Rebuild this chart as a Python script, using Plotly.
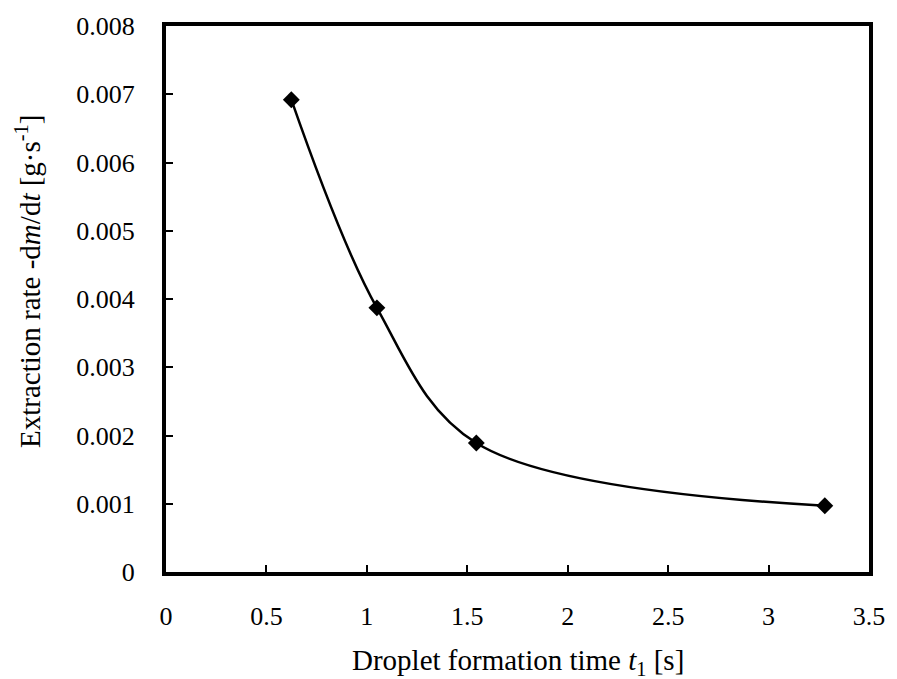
import plotly.graph_objects as go

# Droplet formation time t1 [s] and extraction rate -dm/dt [g/s]
formation_time = [0.624, 1.05, 1.545, 3.28]
extraction_rate = [0.00692, 0.00387, 0.00189, 0.00097]

x_ticks = [0, 0.5, 1, 1.5, 2, 2.5, 3, 3.5]
x_tick_text = ["0", "0.5", "1", "1.5", "2", "2.5", "3", "3.5"]
y_ticks = [0, 0.001, 0.002, 0.003, 0.004, 0.005, 0.006, 0.007, 0.008]
y_tick_text = ["0", "0.001", "0.002", "0.003", "0.004", "0.005", "0.006", "0.007", "0.008"]

x_title = "Droplet formation time <i>t</i><sub>1</sub> [s]"
y_title = "Extraction rate -d<i>m</i>/d<i>t</i> [g·s<sup>-1</sup>]"

FONT = "Liberation Serif"
tick_font = dict(family=FONT, size=26, color="black")
title_font = dict(family=FONT, size=29, color="black")

fig = go.Figure()
fig.add_trace(go.Scatter(
    x=formation_time,
    y=extraction_rate,
    mode="lines+markers",
    line=dict(color="black", width=2.5, shape="spline", smoothing=1.0),
    marker=dict(symbol="diamond", size=13, color="black"),
    showlegend=False,
))

axis_style = dict(
    showline=True, linecolor="black", linewidth=4, mirror=True,
    ticks="inside", ticklen=7, tickwidth=2, tickcolor="black",
    showgrid=False, zeroline=False,
    tickfont=tick_font,
)
fig.update_xaxes(range=[0, 3.5], tickvals=x_ticks, ticktext=x_tick_text,
                 ticklabelstandoff=18, **axis_style)
fig.update_yaxes(range=[0, 0.008], tickvals=y_ticks, ticktext=y_tick_text,
                 ticklabelstandoff=22, **axis_style)

# Axis titles placed as annotations relative to the plot area
fig.add_annotation(text=x_title, xref="paper", yref="paper",
                   x=0.5, y=-0.164, xanchor="center", yanchor="middle",
                   showarrow=False, font=title_font)
fig.add_annotation(text=y_title, xref="paper", yref="paper",
                   x=-0.197, y=0.532, xanchor="center", yanchor="middle",
                   textangle=-90, showarrow=False, font=title_font)

fig.update_layout(
    width=897, height=679,
    margin=dict(l=166, r=21, t=23, b=107),
    plot_bgcolor="white", paper_bgcolor="white",
    font=dict(family=FONT, size=26, color="black"),
)

fig.write_html("out.html")
